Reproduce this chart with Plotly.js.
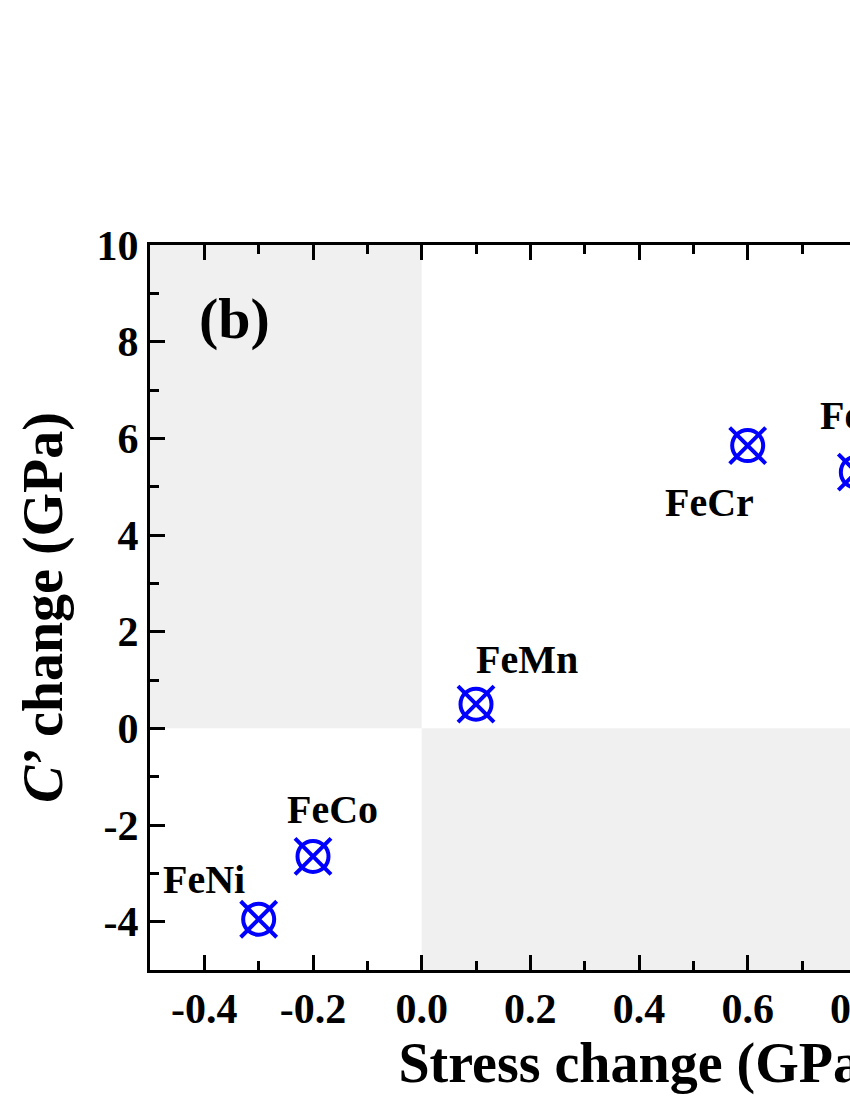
<!DOCTYPE html>
<html>
<head>
<meta charset="utf-8">
<script src="https://cdn.plot.ly/plotly-3.0.1.min.js"></script>
<style>
  html, body { margin: 0; padding: 0; overflow: hidden; background: #fff; }
  #chart { width: 1200px; height: 1100px; }
</style>
</head>
<body>
<div id="chart"></div>
<script>
// Alloy data (stress change vs C' change)
const alloys = ["FeNi", "FeCo", "FeMn", "FeCr", "FeV"];
const stressChange = [-0.30, -0.20, 0.10, 0.60, 0.80];
const cPrimeChange = [-3.95, -2.65, 0.50, 5.85, 5.30];

// tick labels (plain hyphen like the original)
const xTickVals = [-0.4, -0.2, 0.0, 0.2, 0.4, 0.6, 0.8, 1.0, 1.2];
const xTickText = ["-0.4", "-0.2", "0.0", "0.2", "0.4", "0.6", "0.8", "1.0", "1.2"];
const yTickVals = [-4, -2, 0, 2, 4, 6, 8, 10];
const yTickText = ["-4", "-2", "0", "2", "4", "6", "8", "10"];

const xRange = [-0.5, 1.3];
const yRange = [-5, 10];

// label offsets in px from each marker
const labelShift = [[-55, 40], [19, 47], [51, 45], [-38, -57], [-1, 57]];

const serif = "Liberation Serif, Times New Roman, serif";
const blue = "#0000ff";

const ringTrace = {
    x: stressChange,
    y: cPrimeChange,
    type: "scatter",
    mode: "markers",
    marker: { symbol: "circle-open", size: 31, color: blue, line: { width: 4, color: blue } },
    hoverinfo: "skip"
};

const crossTrace = {
    x: stressChange,
    y: cPrimeChange,
    type: "scatter",
    mode: "markers",
    marker: { symbol: "x-thin-open", size: 36, color: blue, line: { width: 4, color: blue } },
    hoverinfo: "skip"
};

const labels = alloys.map((name, i) => ({
    x: stressChange[i],
    y: cPrimeChange[i],
    text: name,
    showarrow: false,
    xshift: labelShift[i][0],
    yshift: labelShift[i][1],
    font: { family: serif, size: 40, color: "#000", weight: "bold" }
}));

labels.push({
    xref: "paper", yref: "paper",
    x: 0.086, y: 0.899,
    xanchor: "center", yanchor: "middle",
    text: "(b)",
    showarrow: false,
    font: { family: serif, size: 58, color: "#000", weight: "bold" }
});

// grey quadrants
const shapes = [
    { type: "rect", layer: "below", x0: xRange[0], x1: 0, y0: 0, y1: yRange[1],
      fillcolor: "#f0f0f0", line: { width: 0 } },
    { type: "rect", layer: "below", x0: 0, x1: xRange[1], y0: yRange[0], y1: 0,
      fillcolor: "#f0f0f0", line: { width: 0 } }
];

const axisCommon = {
    showline: true,
    linewidth: 3,
    linecolor: "#000",
    mirror: "allticks",
    ticks: "inside",
    ticklen: 15,
    tickwidth: 3,
    tickcolor: "#000",
    showgrid: false,
    zeroline: false,
    tickmode: "array",
    tickfont: { family: serif, size: 42, color: "#000", weight: "bold" }
};

const layout = {
    width: 1200,
    height: 1100,
    margin: { l: 150, r: 72, t: 245, b: 130 },
    paper_bgcolor: "#fff",
    plot_bgcolor: "#fff",
    showlegend: false,
    xaxis: Object.assign({}, axisCommon, {
        range: xRange,
        tickvals: xTickVals,
        ticktext: xTickText,
        minor: { tickvals: [-0.3, -0.1, 0.1, 0.3, 0.5, 0.7, 0.9, 1.1], ticks: "inside", ticklen: 9, tickwidth: 3, tickcolor: "#000" },
        title: { text: "Stress change (GPa)", standoff: 8,
                 font: { family: serif, size: 56, color: "#000", weight: "bold" } }
    }),
    yaxis: Object.assign({}, axisCommon, {
        range: yRange,
        tickvals: yTickVals,
        ticktext: yTickText,
        minor: { tickvals: [-3, -1, 1, 3, 5, 7, 9], ticks: "inside", ticklen: 9, tickwidth: 3, tickcolor: "#000" },
        title: { text: "<i>C</i>\u2019 change (GPa)", standoff: 16,
                 font: { family: serif, size: 56, color: "#000", weight: "bold" } }
    }),
    shapes: shapes,
    annotations: labels
};

Plotly.newPlot("chart", [ringTrace, crossTrace], layout, { displayModeBar: false, staticPlot: true });
</script>
</body>
</html>
